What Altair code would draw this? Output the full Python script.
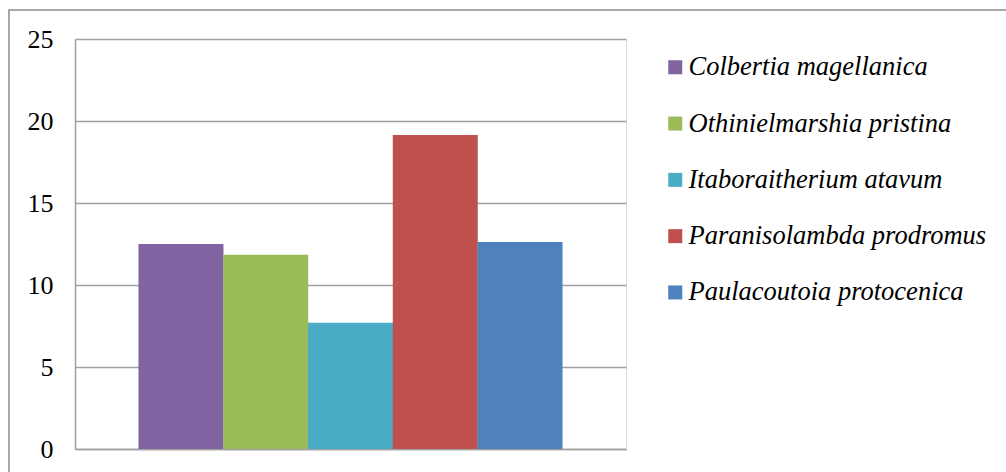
import altair as alt
import pandas as pd

# Species and their measured values
species = [
    "Colbertia magellanica",
    "Othinielmarshia pristina",
    "Itaboraitherium atavum",
    "Paranisolambda prodromus",
    "Paulacoutoia protocenica",
]
values = [12.5, 11.85, 7.7, 19.15, 12.62]
colors = ["#8064A2", "#9BBB59", "#4BACC6", "#C0504D", "#4F81BD"]
y_ticks = [0, 5, 10, 15, 20, 25]

df = pd.DataFrame({"species": species, "value": values})
frame_df = pd.DataFrame({"k": [0]})

SERIF = "'Liberation Serif', 'Times New Roman', serif"

bars = alt.Chart(df).mark_bar(size=85).encode(
    x=alt.X(
        "species:N",
        sort=species,
        scale=alt.Scale(paddingInner=0, paddingOuter=0.75),
        axis=alt.Axis(labels=False, ticks=False, title=None, domainColor="#a0a0a0",
                      domainWidth=1.5, grid=False),
    ),
    y=alt.Y(
        "value:Q",
        scale=alt.Scale(domain=[0, 25], nice=False),
        axis=alt.Axis(values=y_ticks, title=None, ticks=False, tickSize=0,
                      labelPadding=22, labelFont=SERIF, labelFontSize=26,
                      labelColor="#000000", domainColor="#a0a0a0", domainWidth=1.5,
                      gridColor="#a0a0a0", gridWidth=1.5),
    ),
    color=alt.Color(
        "species:N",
        sort=species,
        scale=alt.Scale(domain=species, range=colors),
        legend=alt.Legend(
            orient="none", legendX=587, legendY=15, title=None, padding=0,
            symbolType="square", symbolSize=196, symbolStrokeWidth=0,
            symbolOpacity=1, labelFont=SERIF, labelFontStyle="italic",
            labelFontSize=26.5, labelColor="#000000", labelOffset=0,
            rowPadding=29.3, labelLimit=0,
        ),
    ),
)

# Outer frame around the figure
frame = alt.Chart(frame_df).mark_rect(
    fillOpacity=0, stroke="#8c8c8c", strokeWidth=1.5
).encode(
    x=alt.value(-66), y=alt.value(-29), x2=alt.value(1000), y2=alt.value(500)
)

chart = alt.layer(frame, bars).properties(
    width=551,
    height=410,
    autosize=alt.AutoSizeParams(type="none"),
    padding={"left": 75, "top": 39, "right": 380, "bottom": 23},
).configure_view(stroke=None).configure(background="#ffffff").configure_legend(
    labelFont=SERIF, labelFontStyle="italic"
)

chart.save("out.html", embed_options={"renderer": "svg", "actions": False})
